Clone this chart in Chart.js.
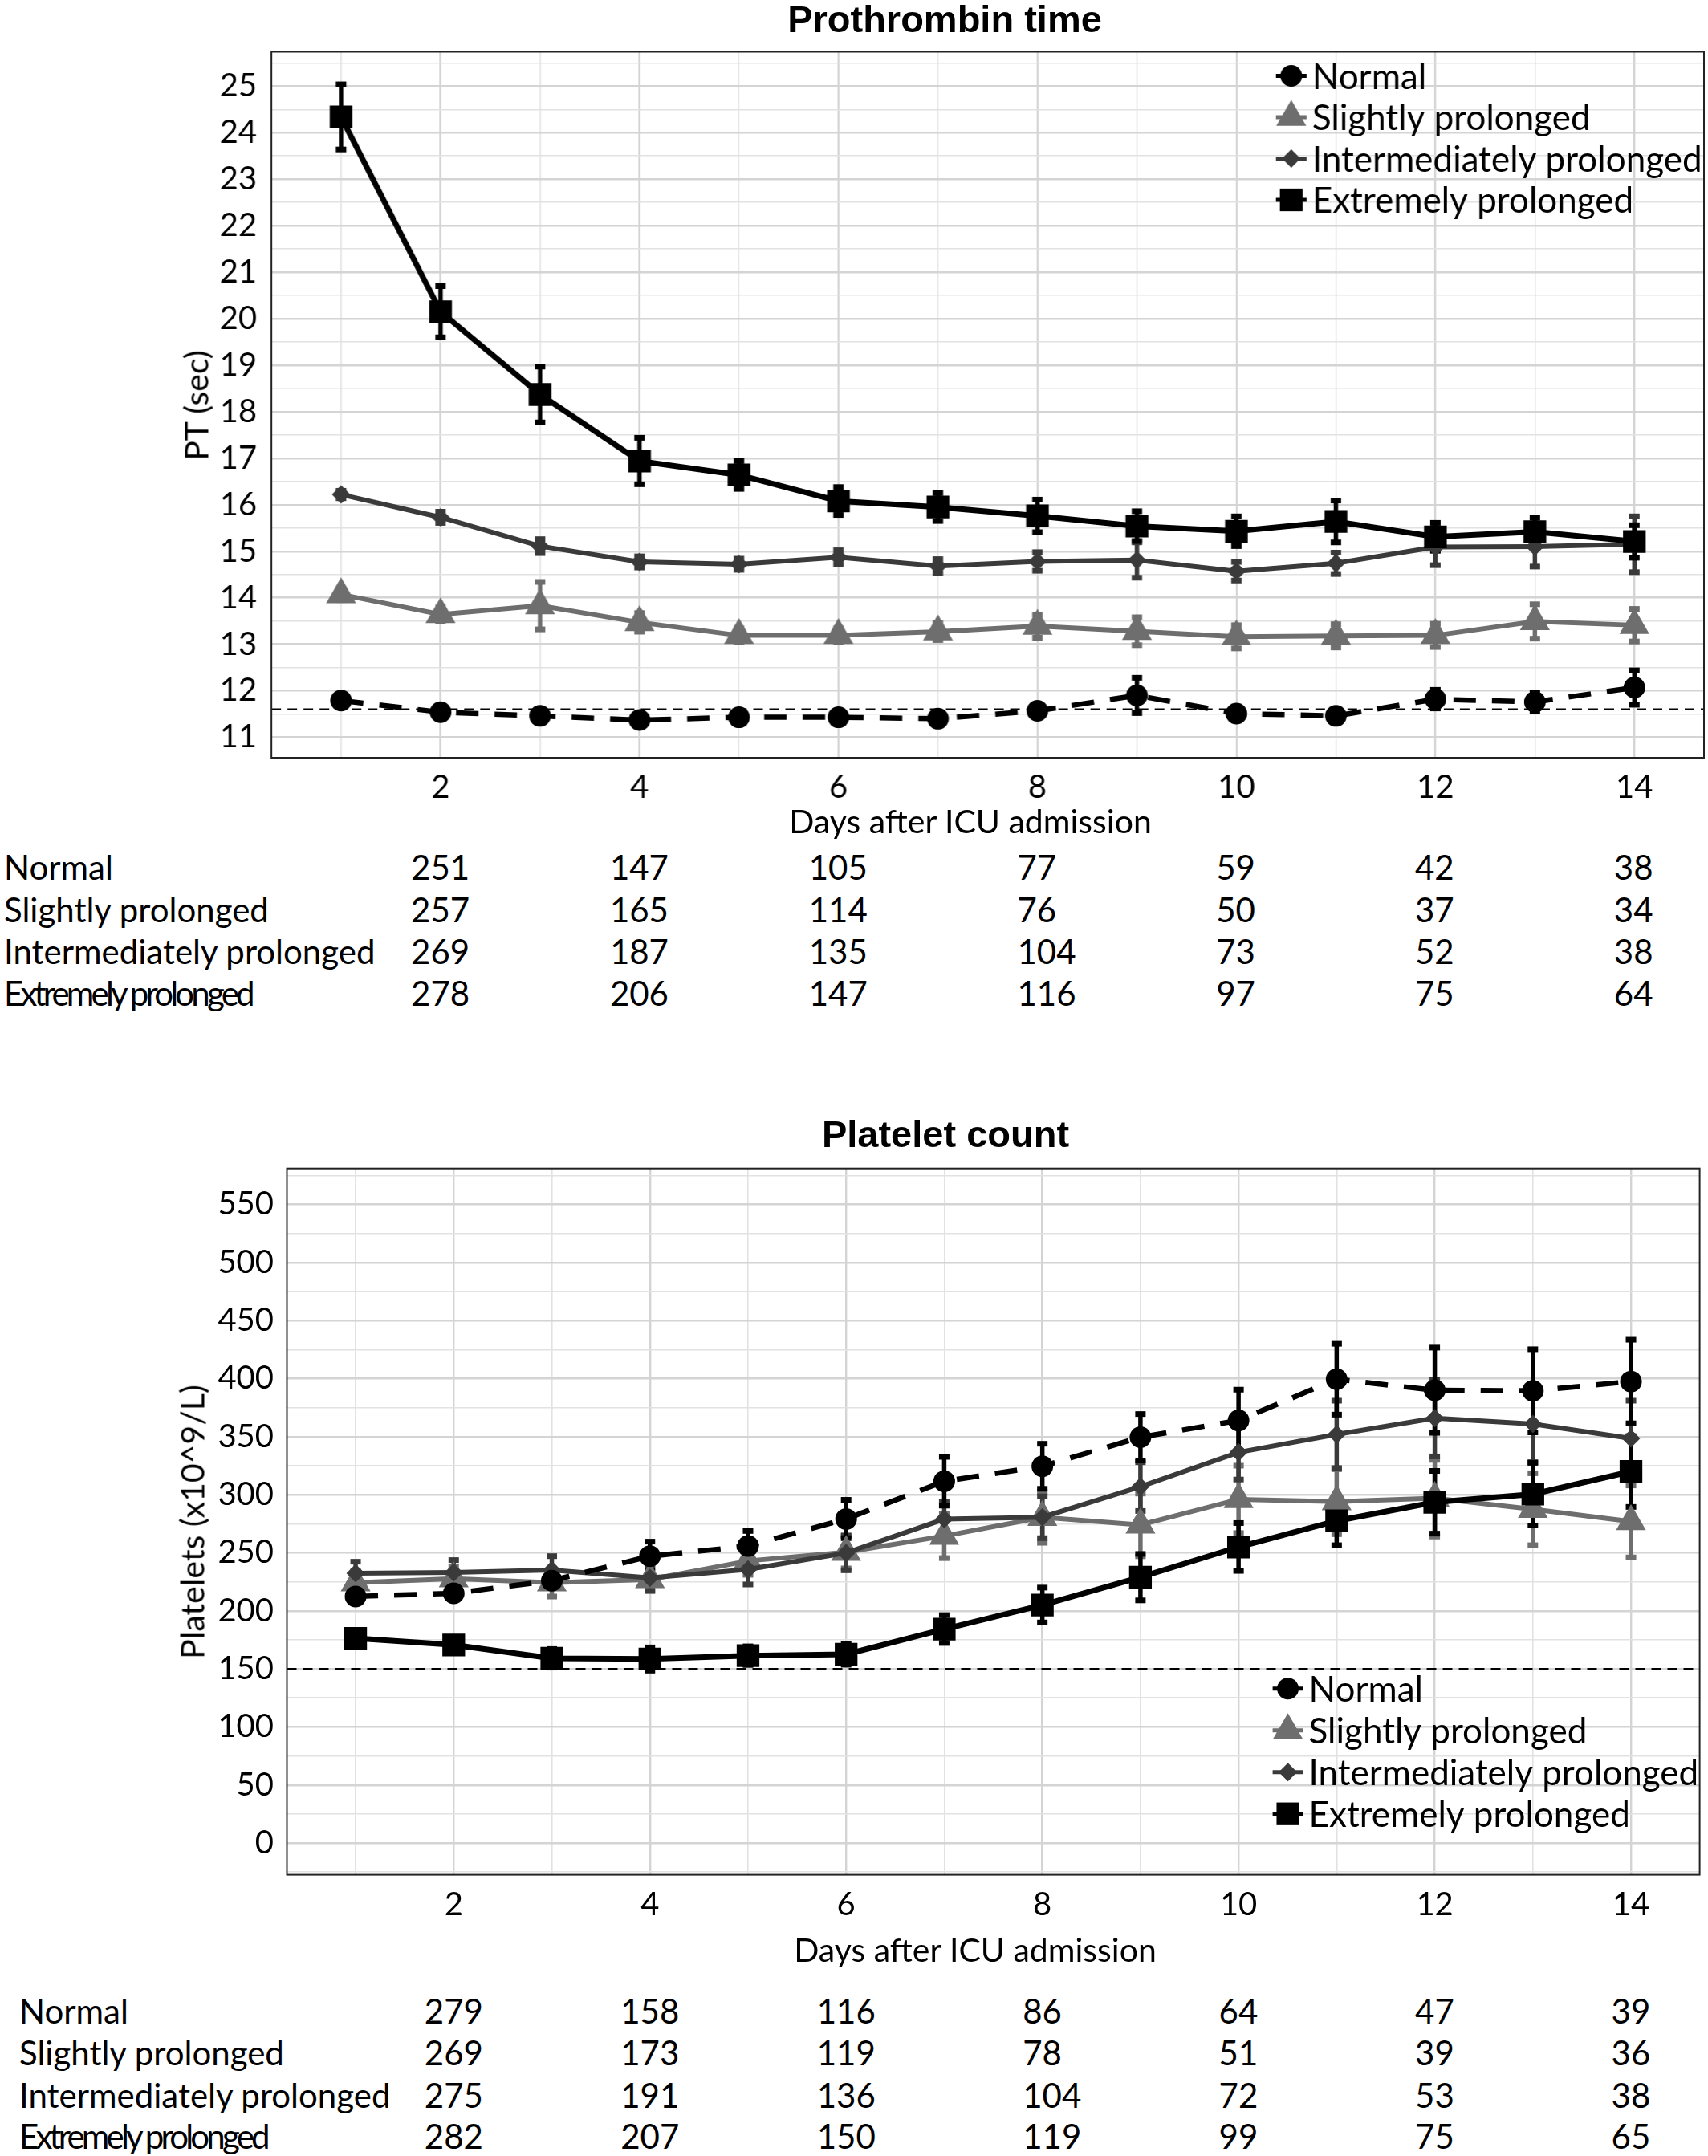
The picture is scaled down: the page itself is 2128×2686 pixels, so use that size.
<!DOCTYPE html>
<html lang="en">
<head>
  <meta charset="UTF-8" />
  <title>Prothrombin time and platelet count</title>
  <style>
    html, body {
      margin: 0;
      padding: 0;
      overflow: hidden;
      background: #fff;
      font-family: Lato, sans-serif;
      color: #000;
    }
    .page {
      position: relative;
      width: 2128px;
      height: 2686px;
      overflow: hidden;
    }
    .chart-box {
      position: absolute;
      left: 0;
      width: 2128px;
      height: 1050px;
    }
    .txt {
      position: absolute;
      white-space: nowrap;
      line-height: 1;
    }
    .title {
      font-family: "Liberation Sans", Arial, sans-serif;
      font-weight: bold;
      font-size: 47px;
      transform: translate(-50%, -50%);
    }
    .axis-title {
      font-size: 41px;
      transform: translate(-50%, -50%);
    }
    .axis-title.rot {
      transform: translate(-50%, -50%) rotate(-90deg);
    }
    .row-label, .cell {
      font-size: 42px;
      transform: translateY(-50%);
    }
    .tight {
      letter-spacing: -3.8px;
    }
  </style>
  <script src="https://cdn.jsdelivr.net/npm/chart.js"></script>
</head>
<body>
<div class="page" id="page">
  <div class="chart-box" id="boxTop" style="top:0px"><canvas id="ptChart"></canvas></div>
  <div class="chart-box" id="boxBot" style="top:1380px"><canvas id="plChart"></canvas></div>

  <div class="txt title" style="left:1177px; top:23px">Prothrombin time</div>
  <div class="txt axis-title rot" style="left:244px; top:505px">PT (sec)</div>
  <div class="txt axis-title" style="left:1209px; top:1022px">Days after ICU admission</div>

  <div class="txt title" style="left:1178px; top:1412px">Platelet count</div>
  <div class="txt axis-title rot" style="left:239px; top:1896px">Platelets (x10^9/L)</div>
  <div class="txt axis-title" style="left:1215px; top:2428px">Days after ICU admission</div>
</div>

<script>
  const days = [1, 2, 3, 4, 5, 6, 7, 8, 9, 10, 11, 12, 13, 14];
  const groups = ['Normal', 'Slightly prolonged', 'Intermediately prolonged', 'Extremely prolonged'];

  // Prothrombin time (sec), mean and error
  const ptNormal = [11.79, 11.54, 11.46, 11.37, 11.43, 11.43, 11.40, 11.57, 11.90, 11.51, 11.46, 11.82, 11.76, 12.07];
  const ptNormalErr = [0.10, 0.08, 0.08, 0.08, 0.08, 0.08, 0.10, 0.12, 0.38, 0.15, 0.12, 0.20, 0.20, 0.37];
  const ptSlightly = [14.07, 13.64, 13.83, 13.47, 13.19, 13.19, 13.27, 13.39, 13.28, 13.16, 13.18, 13.19, 13.49, 13.41];
  const ptSlightlyErr = [0.12, 0.15, 0.51, 0.20, 0.15, 0.15, 0.18, 0.25, 0.30, 0.25, 0.25, 0.25, 0.37, 0.35];
  const ptIntermediate = [16.22, 15.73, 15.11, 14.77, 14.72, 14.87, 14.68, 14.78, 14.81, 14.57, 14.74, 15.09, 15.10, 15.15];
  const ptIntermediateErr = [0.08, 0.12, 0.15, 0.12, 0.12, 0.15, 0.15, 0.20, 0.38, 0.20, 0.23, 0.39, 0.43, 0.60];
  const ptExtremely = [24.34, 20.15, 18.37, 16.94, 16.64, 16.08, 15.95, 15.76, 15.54, 15.43, 15.64, 15.31, 15.42, 15.21];
  const ptExtremelyErr = [0.70, 0.55, 0.60, 0.50, 0.30, 0.30, 0.30, 0.35, 0.32, 0.32, 0.45, 0.30, 0.30, 0.35];
  const ptReference = 11.6;

  // Platelet count (x10^9/L), mean and error
  const plNormal = [212.4, 215.1, 226, 247.1, 255.8, 279.1, 311.6, 324.5, 349.5, 364, 399.5, 390, 389.5, 397.5];
  const plNormalErr = [4, 4, 6, 12.5, 13, 16.5, 21, 19.4, 20, 26.5, 30.5, 36.7, 35.8, 36];
  const plSlightly = [224.3, 227.7, 224.3, 227, 243, 250.5, 264.4, 280.6, 274, 296, 294, 297, 287.5, 277];
  const plSlightlyErr = [10, 10, 12, 10, 12, 14, 19, 22, 27, 29, 28, 33, 31, 31];
  const plIntermediate = [232.3, 233, 235.2, 228.4, 235.7, 249.9, 279, 280.6, 307, 336.5, 352, 366, 361, 348.5];
  const plIntermediateErr = [10, 10.7, 11.9, 11, 13, 15, 15, 18, 21, 23.4, 29, 33, 33, 32.5];
  const plExtremely = [176.3, 170.6, 159.1, 158.5, 161.4, 162.6, 184.3, 205, 229, 255, 277.5, 293.5, 300.5, 320];
  const plExtremelyErr = [5, 6, 8, 10, 8, 9, 12, 15, 20, 20.6, 21, 27, 27, 30.5];
  const plReference = 150;

  // numbers at risk under each chart
  const tableDays = [2, 4, 6, 8, 10, 12, 14];
  const ptAtRisk = [
    [251, 147, 105, 77, 59, 42, 38],
    [257, 165, 114, 76, 50, 37, 34],
    [269, 187, 135, 104, 73, 52, 38],
    [278, 206, 147, 116, 97, 75, 64]
  ];
  const plAtRisk = [
    [279, 158, 116, 86, 64, 47, 39],
    [269, 173, 119, 78, 51, 39, 36],
    [275, 191, 136, 104, 72, 53, 38],
    [282, 207, 150, 119, 99, 75, 65]
  ];

  // look of each group: Normal, Slightly, Intermediate, Extremely
  const styles = [
    { color: '#000000', point: 'circle',   radius: 13.5, width: 6.5, dash: [28, 20], order: 1 },
    { color: '#6e6e6e', point: 'triangle', radius: 21.5, width: 6,   dash: [],       order: 3 },
    { color: '#3a3a3a', point: 'rectRot',  radius: 11.5, width: 6,   dash: [],       order: 2 },
    { color: '#000000', point: 'rect',     radius: 20,   width: 7,   dash: [],       order: 0 }
  ];

  function makeDatasets(series, errors) {
    return series.map((vals, g) => ({
      label: groups[g],
      data: days.map((d, i) => ({ x: d, y: vals[i] })),
      err: errors[g],
      borderColor: styles[g].color,
      backgroundColor: styles[g].color,
      borderWidth: styles[g].width,
      borderDash: styles[g].dash,
      pointStyle: styles[g].point,
      pointRadius: styles[g].radius,
      pointHoverRadius: styles[g].radius,
      pointBackgroundColor: styles[g].color,
      pointBorderWidth: 0,
      tension: 0,
      order: styles[g].order
    }));
  }

  function drawMarker(ctx, style, x, y, r) {
    ctx.beginPath();
    if (style === 'circle') {
      ctx.arc(x, y, r, 0, Math.PI * 2);
    } else if (style === 'rect') {
      const s = r * Math.SQRT1_2;
      ctx.rect(x - s, y - s, 2 * s, 2 * s);
    } else if (style === 'rectRot') {
      ctx.moveTo(x - r, y); ctx.lineTo(x, y - r); ctx.lineTo(x + r, y); ctx.lineTo(x, y + r);
      ctx.closePath();
    } else if (style === 'triangle') {
      ctx.moveTo(x, y - r);
      ctx.lineTo(x + r * 0.866, y + r * 0.5);
      ctx.lineTo(x - r * 0.866, y + r * 0.5);
      ctx.closePath();
    }
    ctx.fill();
  }

  // reference line, error bars, panel border and the legend
  const extras = {
    id: 'extras',
    beforeDatasetsDraw(chart, args, opts) {
      const { ctx, chartArea: a, scales: { x, y } } = chart;
      ctx.save();
      ctx.beginPath();
      ctx.setLineDash([12, 8]);
      ctx.lineWidth = 2.5;
      ctx.strokeStyle = '#000';
      const ry = y.getPixelForValue(opts.refLine);
      ctx.moveTo(a.left, ry);
      ctx.lineTo(a.right, ry);
      ctx.stroke();
      ctx.setLineDash([]);

      const order = chart.data.datasets.map((ds, i) => i)
        .sort((p, q) => chart.data.datasets[q].order - chart.data.datasets[p].order);
      order.forEach(i => {
        const ds = chart.data.datasets[i];
        ctx.strokeStyle = ds.borderColor;
        ctx.fillStyle = ds.borderColor;
        ctx.lineWidth = 5.5;
        ds.data.forEach((p, j) => {
          const px = x.getPixelForValue(p.x);
          const y1 = y.getPixelForValue(p.y + ds.err[j]);
          const y2 = y.getPixelForValue(p.y - ds.err[j]);
          ctx.beginPath();
          ctx.moveTo(px, y1);
          ctx.lineTo(px, y2);
          ctx.stroke();
          ctx.fillRect(px - 6.5, y1 - 3.5, 13, 7);
          ctx.fillRect(px - 6.5, y2 - 3.5, 13, 7);
        });
      });
      ctx.restore();
    },
    afterDatasetsDraw(chart) {
      const { ctx, chartArea: a } = chart;
      ctx.save();
      ctx.strokeStyle = '#222';
      ctx.lineWidth = 2;
      ctx.strokeRect(a.left, a.top, a.right - a.left, a.bottom - a.top);
      ctx.restore();
    },
    afterDraw(chart, args, opts) {
      const { ctx, chartArea: a } = chart;
      const cx = a.right - opts.legendRight;
      ctx.save();
      ctx.font = '44px Lato';
      ctx.textBaseline = 'middle';
      chart.data.datasets.forEach((ds, i) => {
        const cy = a.top + opts.legendTop + i * opts.legendStep;
        ctx.strokeStyle = ds.borderColor;
        ctx.fillStyle = ds.borderColor;
        ctx.lineWidth = 5;
        ctx.beginPath();
        ctx.moveTo(cx - 19, cy);
        ctx.lineTo(cx + 19, cy);
        ctx.stroke();
        drawMarker(ctx, ds.pointStyle, cx, cy, ds.pointRadius);
        ctx.fillStyle = '#000';
        ctx.fillText(ds.label, cx + 26, cy + 2);
      });
      ctx.restore();
    }
  };

  function gridColor(major) {
    return c => (c.tick && Math.abs(c.tick.value % major) < 1e-9) ? '#d4d4d4' : '#e2e2e2';
  }
  function gridWidth(major) {
    return c => (c.tick && Math.abs(c.tick.value % major) < 1e-9) ? 2.4 : 1.6;
  }

  function makeChart(canvasId, datasets, cfg) {
    return new Chart(document.getElementById(canvasId), {
      type: 'line',
      data: { datasets: datasets },
      plugins: [extras],
      options: {
        responsive: true,
        maintainAspectRatio: false,
        animation: false,
        layout: { padding: cfg.padding },
        plugins: {
          legend: { display: false },
          tooltip: { enabled: false },
          extras: cfg.extras
        },
        scales: {
          x: {
            type: 'linear',
            min: 0.3,
            max: 14.7,
            afterBuildTicks: s => { s.ticks = days.map(v => ({ value: v })); },
            afterFit: s => { s.height = cfg.xHeight; },
            ticks: {
              autoSkip: false,
              maxRotation: 0,
              padding: cfg.xPad,
              color: '#000',
              font: { family: 'Lato', size: 40 },
              callback: v => (v % 2 === 0 ? v : '')
            },
            grid: { color: gridColor(2), lineWidth: gridWidth(2), drawTicks: false },
            border: { display: false }
          },
          y: {
            min: cfg.yMin,
            max: cfg.yMax,
            afterFit: s => { s.width = cfg.yWidth; },
            ticks: {
              autoSkip: false,
              includeBounds: false,
              stepSize: cfg.yStep,
              padding: cfg.yPad,
              color: '#000',
              font: { family: 'Lato', size: 40 },
              callback: v => (v >= cfg.yFirst && Math.abs(v % cfg.yLabelEvery) < 1e-9 ? v : '')
            },
            grid: { color: gridColor(cfg.yLabelEvery), lineWidth: gridWidth(cfg.yLabelEvery), drawTicks: false },
            border: { display: false }
          }
        }
      }
    });
  }

  // widen the canvas until the plot's right edge sits where the reference has it
  function alignRight(chart, boxId, target) {
    const box = document.getElementById(boxId);
    const w = box.offsetWidth + (target - chart.chartArea.right);
    box.style.width = w + 'px';
    chart.resize(w, box.offsetHeight);
  }

  const ptChart = makeChart('ptChart',
    makeDatasets([ptNormal, ptSlightly, ptIntermediate, ptExtremely],
                 [ptNormalErr, ptSlightlyErr, ptIntermediateErr, ptExtremelyErr]),
    {
      padding: { top: 64.5, right: 6, left: 0, bottom: 0 },
      xHeight: 106, xPad: 13, yWidth: 338, yPad: 18,
      yMin: 10.56, yMax: 25.74, yStep: 0.5, yLabelEvery: 1, yFirst: 11,
      extras: { refLine: ptReference, legendRight: 514, legendTop: 30, legendStep: 51.5 }
    });
  alignRight(ptChart, 'boxTop', 2122);

  const plChart = makeChart('plChart',
    makeDatasets([plNormal, plSlightly, plIntermediate, plExtremely],
                 [plNormalErr, plSlightlyErr, plIntermediateErr, plExtremelyErr]),
    {
      padding: { top: 75.7, right: 10.4, left: 0, bottom: 0 },
      xHeight: 94.4, xPad: 13, yWidth: 357.5, yPad: 16.5,
      yMin: -27.3, yMax: 581, yStep: 25, yLabelEvery: 50, yFirst: 0,
      extras: { refLine: plReference, legendRight: 513, legendTop: 648, legendStep: 52 }
    });
  alignRight(plChart, 'boxBot', 2117.6);

  // numbers-at-risk table, columns lined up with the x ticks
  function buildTable(chart, labelX, rowY, counts) {
    const page = document.getElementById('page');
    groups.forEach((name, r) => {
      const lab = document.createElement('div');
      lab.className = 'txt row-label' + (r === 3 ? ' tight' : '');
      lab.style.left = labelX + 'px';
      lab.style.top = rowY[r] + 'px';
      lab.textContent = name;
      page.appendChild(lab);
    });
    tableDays.forEach((d, c) => {
      const tx = chart.scales.x.getPixelForValue(d);
      let left = null;
      counts.forEach((row, r) => {
        const cell = document.createElement('div');
        cell.className = 'txt cell';
        cell.style.top = rowY[r] + 'px';
        cell.textContent = row[c];
        page.appendChild(cell);
        if (left === null) left = tx - cell.offsetWidth / 2;
        cell.style.left = left + 'px';
      });
    });
  }

  buildTable(ptChart, 5, [1080, 1133, 1185, 1237], ptAtRisk);
  buildTable(plChart, 24, [2505, 2557, 2610, 2661], plAtRisk);
</script>
</body>
</html>
